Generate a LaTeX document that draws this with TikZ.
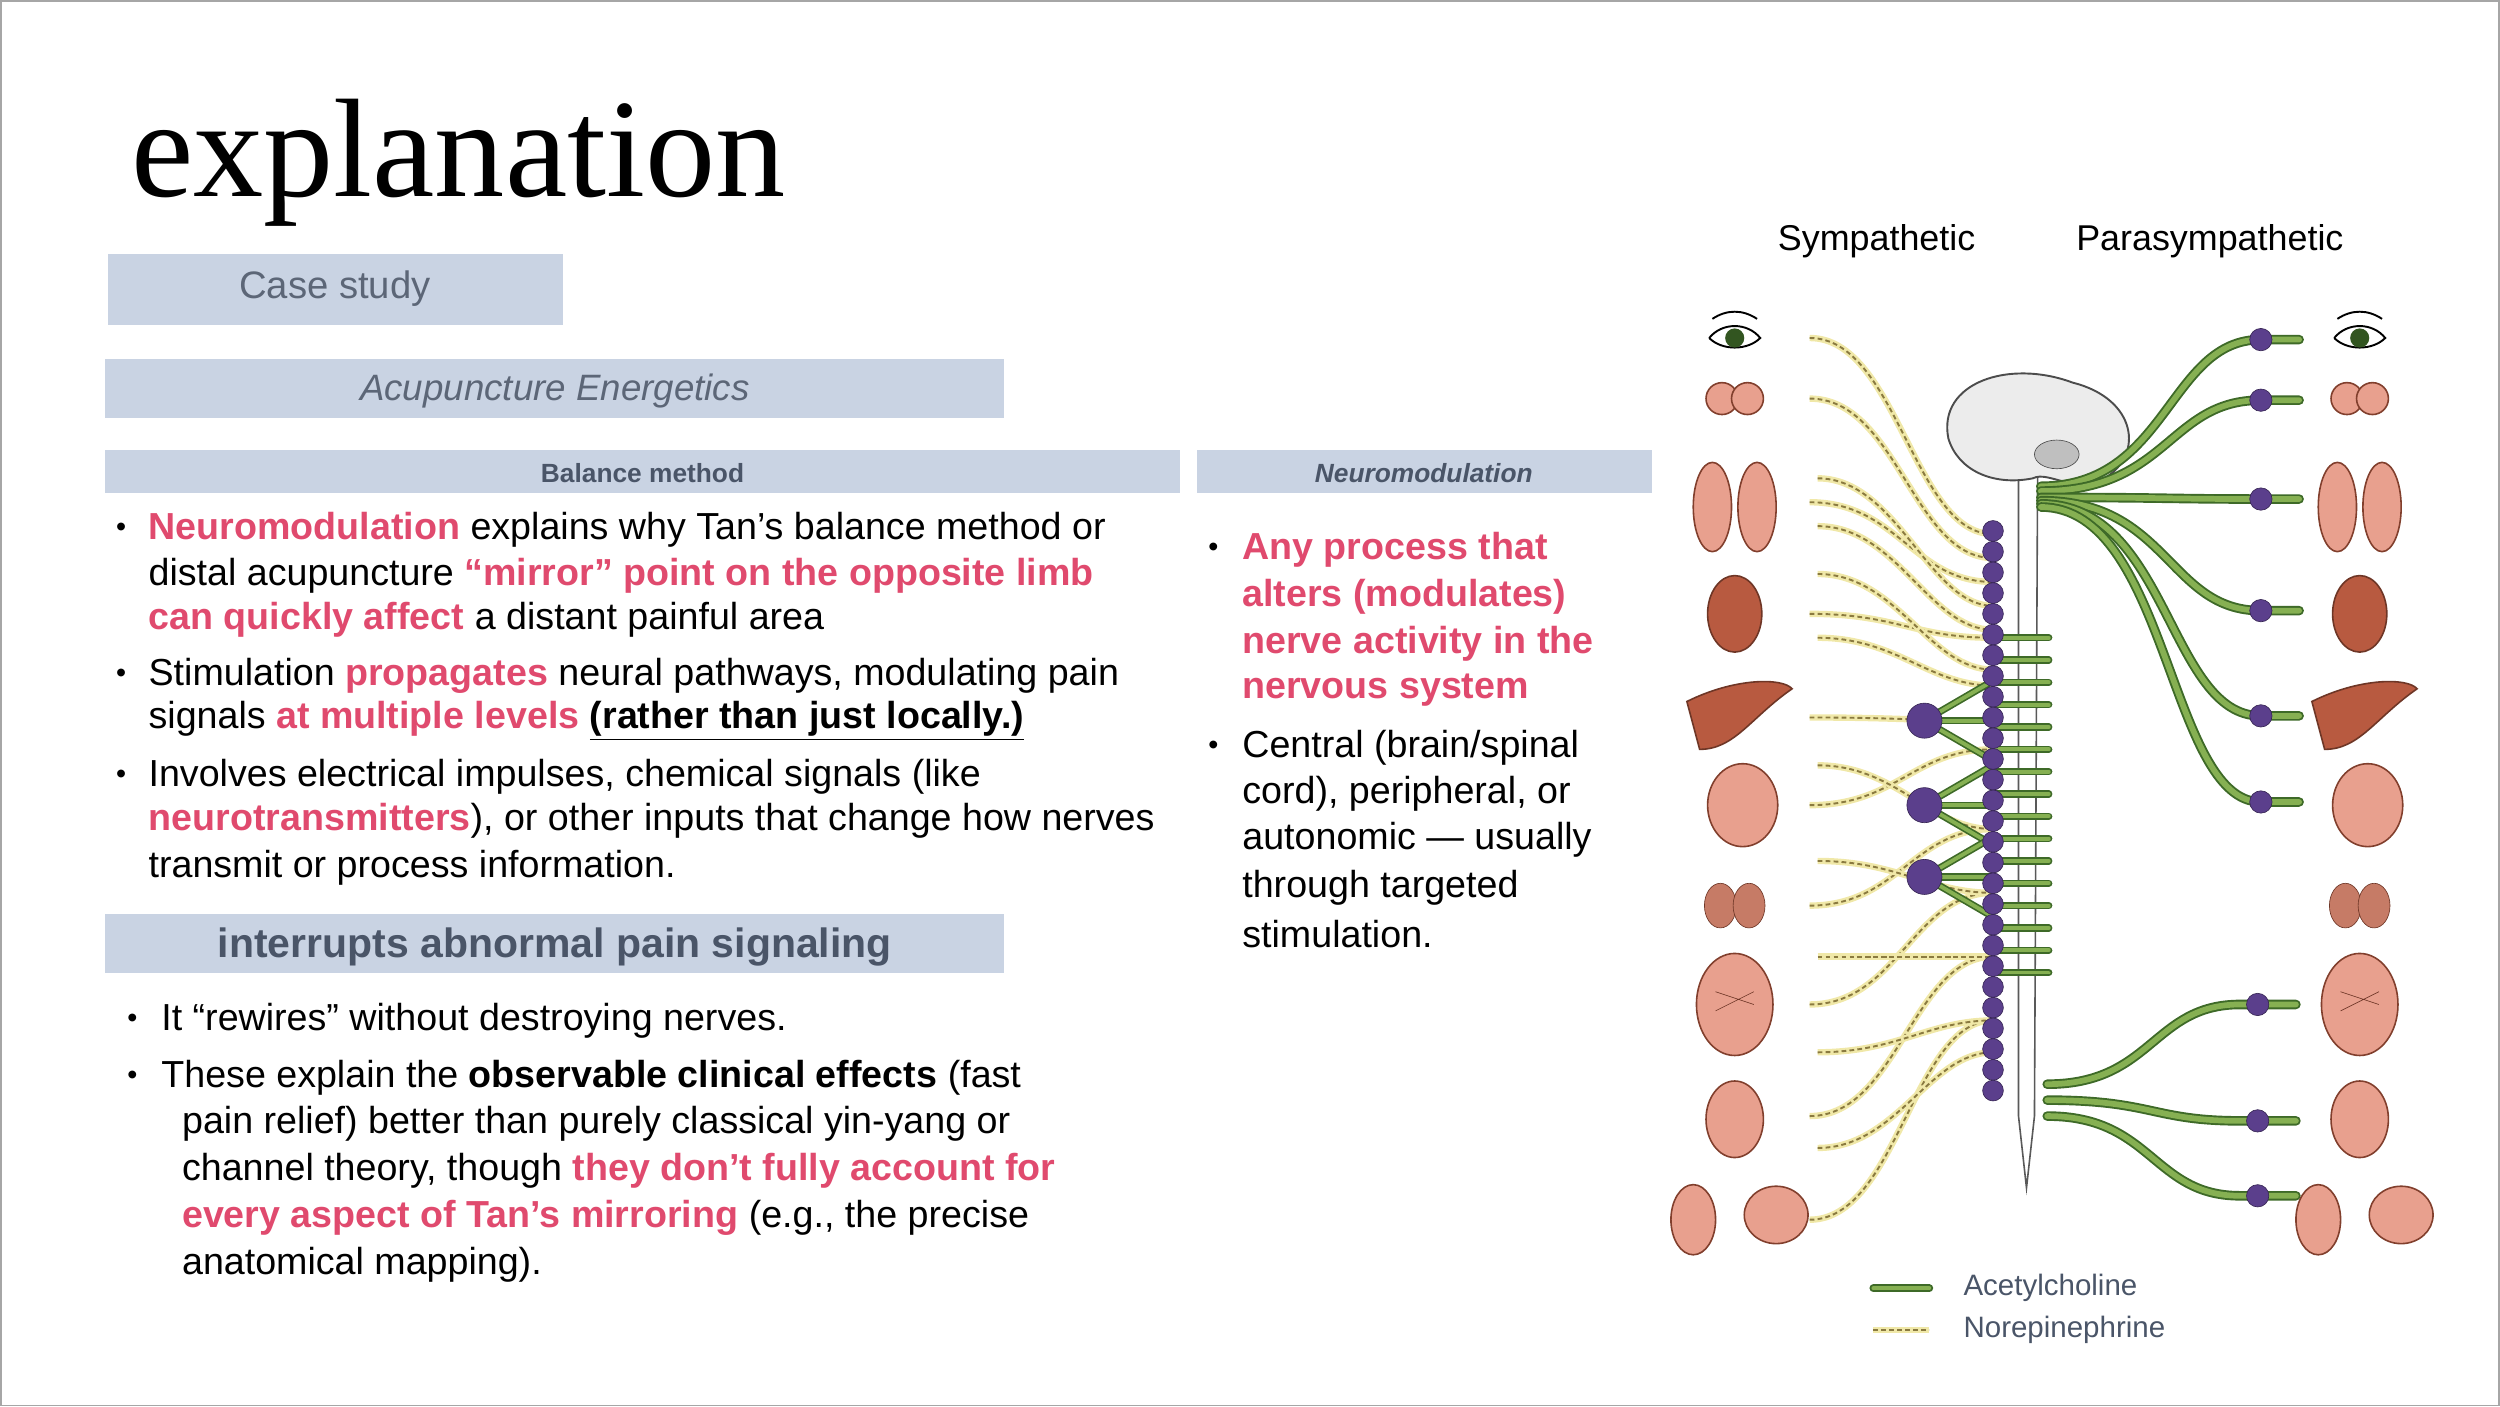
\documentclass[tikz,border=0pt]{standalone}
\usepackage{fontspec}
\setmainfont{Liberation Sans}
\newfontfamily\titlefont{Liberation Serif}
\usetikzlibrary{calc}
\definecolor{pinkc}{HTML}{E04A6E}
\definecolor{boxc}{HTML}{C9D3E3}
\definecolor{hdr}{HTML}{4A5568}
\definecolor{purp}{HTML}{5B3F8C}
\definecolor{grn}{HTML}{86B052}
\definecolor{grnd}{HTML}{3E6A28}
\definecolor{ylw}{HTML}{F0E8A8}
\definecolor{ylwd}{HTML}{8A7A40}
\definecolor{org}{HTML}{E8A08E}
\definecolor{orgd}{HTML}{B85A40}
\newcommand{\pk}[1]{{\color{pinkc}\bfseries #1}}
\tikzset{
 txt/.style={anchor=west,font=\fontsize{23.6}{26}\selectfont,inner sep=0pt},
 rtxt/.style={anchor=west,font=\fontsize{23.6}{27}\selectfont,inner sep=0pt},
 bul/.style={anchor=center,font=\fontsize{18}{20}\selectfont,inner sep=0pt},
 box/.style={fill=boxc,draw=none,inner sep=0pt},
 gline/.style={draw=grnd,line width=6pt,line cap=round},
 gin/.style={draw=grn,line width=3.6pt,line cap=round},
 yline/.style={draw=ylw,line width=4pt},
 ydash/.style={draw=ylwd,line width=1.2pt,dash pattern=on 3pt off 2pt},
 dot/.style={circle,fill=purp,draw=purp!60!black,inner sep=0pt,minimum size=#1},
 organ/.style={fill=org,draw=orgd!70!black,line width=1pt},
}
\begin{document}
\begin{tikzpicture}[x=1pt,y=-1pt]
\useasboundingbox (0,0) rectangle (1568,882);
\draw[gray!70,line width=1pt] (0.5,0.5) rectangle (1567.5,881.5);
\node[anchor=west,inner sep=0pt,font=\titlefont\fontsize{88}{88}\selectfont] (title) at (82,102) {explanation};
% boxes
\fill[box] (68,159) rectangle (353,204);
\node[font=\fontsize{24}{24}\selectfont,text=hdr!90] (cs) at (210,181) {Case study};
\fill[box] (66,225) rectangle (630,262);
\node[font=\itshape\fontsize{23}{23}\selectfont,text=hdr!90] (ae) at (348,245) {Acupuncture Energetics};
\fill[box] (66,282) rectangle (740,309);
\node[font=\bfseries\fontsize{16.5}{16}\selectfont,text=hdr] (bm) at (403,297) {Balance method};
\fill[box] (751,282) rectangle (1036,309);
\node[font=\bfseries\itshape\fontsize{16.5}{16}\selectfont,text=hdr] (nm) at (893,297) {Neuromodulation};
\fill[box] (66,573) rectangle (630,610);
\node[font=\bfseries\fontsize{25.7}{24}\selectfont,text=hdr] (ia) at (348,594) {interrupts abnormal pain signaling};
% left text
\foreach \y in {332,424,487} \node[bul] at (76,\y) {•};
\node[txt] (l1) at (93,332) {\pk{Neuromodulation} explains why Tan’s balance method or};
\node[txt] (l2) at (93,361) {distal acupuncture \pk{“mirror” point on the opposite limb}};
\node[txt] (l3) at (93,389) {\pk{can quickly affect} a distant painful area};
\node[txt] (l4) at (93,424) {Stimulation \pk{propagates} neural pathways, modulating pain};
\node[txt] (l5) at (93,452) {signals \pk{at multiple levels} \textbf{\underline{(rather than just locally.)}}};
\node[txt] (l6) at (93,487) {Involves electrical impulses, chemical signals (like};
\node[txt] (l7) at (93,515) {\pk{neurotransmitters}), or other inputs that change how nerves};
\node[txt] (l8) at (93,544) {transmit or process information.};
\foreach \y in {640,676} \node[bul] at (83,\y) {•};
\node[txt] (b1) at (101,640) {It “rewires” without destroying nerves.};
\node[txt] (b2) at (101,676) {These explain the \textbf{observable clinical effects} (fast};
\node[txt] (b3) at (114,705) {pain relief) better than purely classical yin-yang or};
\node[txt] (b4) at (114,734) {channel theory, though \pk{they don’t fully account for}};
\node[txt] (b5) at (114,764) {\pk{every aspect of Tan’s mirroring} (e.g., the precise};
\node[txt] (b6) at (114,793) {anatomical mapping).};
% right text
\foreach \y in {345,469} \node[bul] at (761,\y) {•};
\node[rtxt] (r1) at (779,345) {\pk{Any process that}};
\node[rtxt] (r2) at (779,374) {\pk{alters (modulates)}};
\node[rtxt] (r3) at (779,404) {\pk{nerve activity in the}};
\node[rtxt] (r4) at (779,433) {\pk{nervous system}};
\node[rtxt] (r5) at (779,469) {Central (brain/spinal};
\node[rtxt] (r6) at (779,498) {cord), peripheral, or};
\node[rtxt] (r7) at (779,527) {autonomic — usually};
\node[rtxt] (r8) at (779,557) {through targeted};
\node[rtxt] (r9) at (779,586) {stimulation.};
% diagram headings
\node[font=\fontsize{22.5}{22}\selectfont] (sy) at (1177,151) {Sympathetic};
\node[font=\fontsize{22.5}{22}\selectfont] (ps) at (1386,151) {Parasympathetic};
% sympathetic dashed lines
\foreach \ya/\yb in {212/335,250/350,315/365,385/400,450/452,505/470,568/520,630/560,700/600,765/640}{
  \path[yline] (1135,\ya) .. controls (1190,\ya) and (1200,\yb) .. (1250,\yb);
  \path[ydash] (1135,\ya) .. controls (1190,\ya) and (1200,\yb) .. (1250,\yb);
}
\foreach \ya/\yb in {300/380,330/395,360/420,400/430,480/520,540/560,600/600,660/640,720/660}{
  \path[yline] (1140,\ya) .. controls (1190,\ya) and (1210,\yb) .. (1250,\yb);
  \path[ydash] (1140,\ya) .. controls (1190,\ya) and (1210,\yb) .. (1250,\yb);
}
% spinal cord
\draw[gray!70!black,fill=white,line width=1pt] (1266,290) -- (1266,700) -- (1271,745) -- (1276,700) -- (1278,290) -- cycle;
% brain
\draw[gray!60!black,fill=gray!15,line width=1.2pt] (1222,275) .. controls (1215,240) and (1260,225) .. (1300,240) .. controls (1340,250) and (1345,285) .. (1320,300) .. controls (1300,310) and (1285,295) .. (1275,300) .. controls (1250,305) and (1228,295) .. (1222,275) -- cycle;
\draw[gray!60!black,fill=gray!50] (1290,285) ellipse (14pt and 9pt);
% ganglia connections
\foreach \g in {452,505,550}{
  \foreach \yb in {-25,0,25}{
    \path[gline,line width=4.5pt] (1207,\g) -- (1250,\g+\yb);
    \path[gin,line width=2.4pt] (1207,\g) -- (1250,\g+\yb);
  }
}
% rungs
\foreach \y in {400,414,...,610}{
  \path[gline,line width=4.5pt] (1250,\y) -- (1285,\y);
  \path[gin,line width=2.4pt] (1250,\y) -- (1285,\y);
}
% chain
\draw[purp,line width=3pt] (1250,333) -- (1250,683);
\foreach \y in {333,346,...,685} \node[dot=13pt] at (1250,\y) {};
\foreach \g in {452,505,550} \node[dot=22pt] (g\g) at (1207,\g) {};
% parasympathetic
\foreach \y/\s in {213/305,251/308,313/312,383/314,449/316,503/318}{
  \path[gline] (1280,\s) .. controls (1360,\s) and (1360,\y) .. (1418,\y) -- (1442,\y);
  \path[gin] (1280,\s) .. controls (1360,\s) and (1360,\y) .. (1418,\y) -- (1442,\y);
}
\foreach \y/\s in {630/680,703/690,750/700}{
  \path[gline] (1284,\s) .. controls (1350,\s) and (1350,\y) .. (1405,\y) -- (1440,\y);
  \path[gin] (1284,\s) .. controls (1350,\s) and (1350,\y) .. (1405,\y) -- (1440,\y);
}
\foreach \y in {213,251,313,383,449,503} \node[dot=14pt] at (1418,\y) {};
\foreach \y in {630,703,750} \node[dot=14pt] at (1416,\y) {};
% organs both sides
\foreach \x in {1088,1480}{
  \draw[black,line width=1.2pt,fill=white] (\x-16,212) .. controls (\x-8,202) and (\x+8,202) .. (\x+16,212) .. controls (\x+8,220) and (\x-8,220) .. (\x-16,212);
  \fill[grnd!80!black] (\x,212) circle (6pt);
  \draw[black,line width=1.2pt] (\x-14,200) .. controls (\x-5,194) and (\x+5,194) .. (\x+14,200);
  \draw[organ] (\x-8,250) circle (10pt); \draw[organ] (\x+8,250) circle (10pt);
  \draw[organ] (\x-14,318) ellipse (12pt and 28pt); \draw[organ] (\x+14,318) ellipse (12pt and 28pt);
  \draw[fill=orgd,draw=orgd!60!black,line width=1pt] (\x,385) ellipse (17pt and 24pt);
  \draw[fill=orgd,draw=orgd!60!black,line width=1pt] (\x-30,440) .. controls (\x,425) and (\x+30,425) .. (\x+36,432) .. controls (\x+10,450) and (\x,470) .. (\x-22,470) -- cycle;
  \draw[organ] (\x+5,505) ellipse (22pt and 26pt);
  \draw[fill=orgd!80,draw=orgd!60!black] (\x-9,568) ellipse (10pt and 14pt); \draw[fill=orgd!80,draw=orgd!60!black] (\x+9,568) ellipse (10pt and 14pt);
  \draw[organ] (\x,630) ellipse (24pt and 32pt);
  \draw[orgd!60!black] (\x-12,622) -- (\x+12,630) (\x-12,634) -- (\x+12,622);
  \draw[organ] (\x,702) ellipse (18pt and 24pt);
  \draw[organ] (\x-26,765) ellipse (14pt and 22pt); \draw[organ] (\x+26,762) ellipse (20pt and 18pt);
}
% legend
\path[gline,line width=5pt] (1175,808) -- (1210,808);
\path[gin,line width=2.5pt] (1175,808) -- (1210,808);
\path[yline] (1175,834) -- (1210,834); \path[ydash] (1175,834) -- (1210,834);
\node[anchor=west,font=\fontsize{18.5}{17}\selectfont,text=hdr] (ac) at (1228,808) {Acetylcholine};
\node[anchor=west,font=\fontsize{18.5}{17}\selectfont,text=hdr] (ne) at (1228,834) {Norepinephrine};
\end{tikzpicture}
\end{document}
